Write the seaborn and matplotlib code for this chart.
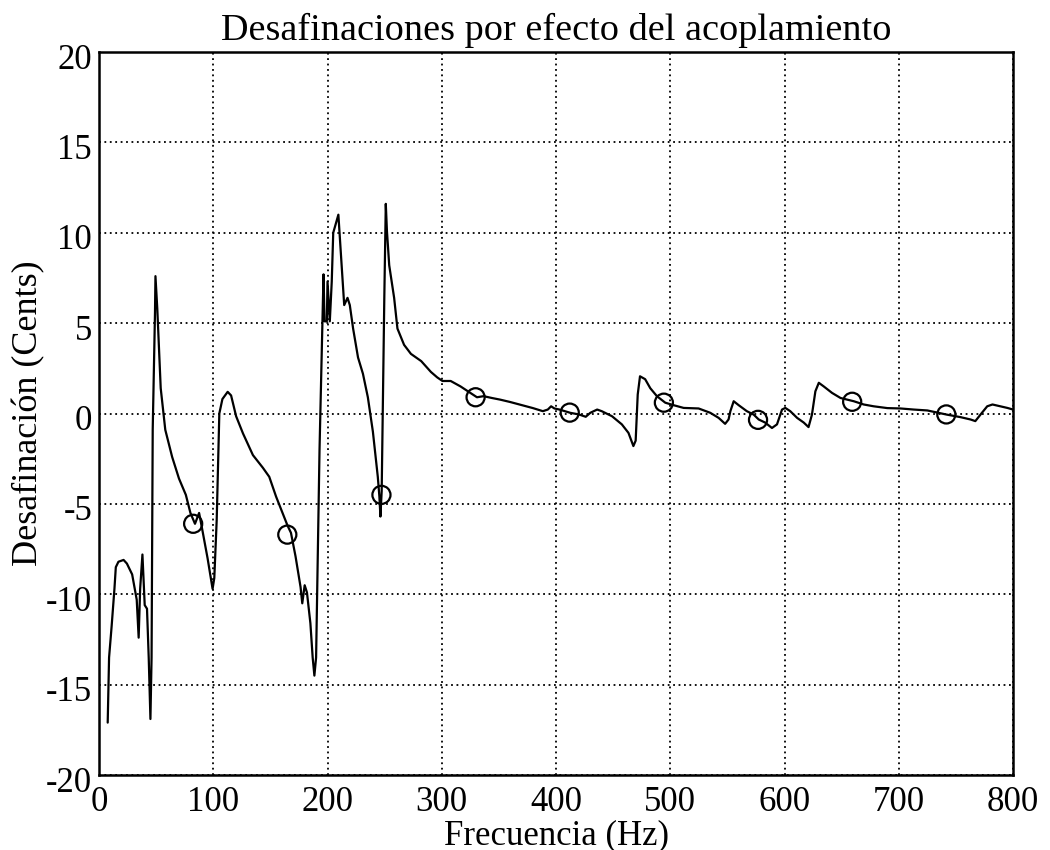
import matplotlib
matplotlib.use("Agg")
import matplotlib.pyplot as plt
import matplotlib.transforms as mtransforms
import seaborn as sns
import pandas as pd

freq = [7.6, 8.8, 11, 13.5, 14.7, 17, 21.5, 24.4, 29, 33, 34.7, 36, 38, 40, 42, 43.5, 45, 46, 47, 49, 49.4, 51, 54, 58,
        64, 70, 76, 80, 84, 87.6, 90.6, 95, 99.4, 100.9, 103, 105.3, 108, 112.6, 115.6, 120, 126, 134.7, 143.4, 149,
        155, 160.6, 165, 168, 172, 176.4, 177.9, 180, 182, 185, 187, 188.5, 190, 193, 196.5, 197.4, 199.4, 200, 202,
        203.7, 205, 209.5, 212.4, 214.6, 217.5, 219.5, 222.4, 226.7, 231, 235.3, 239.7, 242.5, 244, 245.4, 246.3,
        247.4, 249.7, 251, 252, 254, 258.3, 261.2, 267, 273, 282, 290.5, 296, 300.6, 307.8, 316.4, 330.8, 336.6,
        343.8, 351, 359.7, 368, 379.8, 388.5, 392.8, 395.7, 398.6, 403, 412.4, 420, 426, 430, 436, 440, 449, 457.6,
        463.4, 467.7, 469.7, 471.5, 473.5, 478, 482.5, 488.3, 495.6, 503, 511.7, 524.8, 535, 542.3, 548, 551, 552.6,
        555.5, 559.9, 567, 573, 577.4, 583, 589, 593.4, 597.8, 600.7, 605, 611, 616.8, 621, 624, 627, 630, 634.3,
        641.6, 649, 660.6, 669.3, 678, 690, 701.5, 713, 725, 742, 754, 762.8, 767, 771.5, 777.4, 782, 789, 795, 800]
cents = [-17.1, -13.5, -11.8, -9.7, -8.5, -8.2, -8.1, -8.3, -8.9, -10.3, -12.4, -9.7, -7.8, -10.6, -10.8, -13.5, -16.9,
         -13.5, -0.9, 5.6, 7.6, 5.8, 1.4, -0.9, -2.4, -3.6, -4.5, -5.5, -6.1, -5.5, -6.5, -8.0, -9.7, -9.1, -5.9, 0.0,
         0.8, 1.2, 1.0, -0.15, -1.1, -2.3, -3.0, -3.5, -4.6, -5.5, -6.2, -6.6, -7.9, -9.6, -10.5, -9.5, -9.9, -11.6,
         -13.5, -14.5, -13.5, -2.0, 7.7, 5.1, 5.1, 7.3, 5.1, 7.3, 10.0, 11.0, 8.2, 6.0, 6.4, 6.0, 4.7, 3.1, 2.2, 0.9,
         -1.0, -2.6, -3.5, -4.6, -5.7, -4.3, 6.4, 11.6, 10.1, 8.2, 6.4, 4.7, 3.8, 3.3, 2.9, 2.3, 2.0, 1.8, 1.8, 1.5,
         0.9, 0.96, 0.86, 0.77, 0.64, 0.5, 0.3, 0.13, 0.22, 0.4, 0.28, 0.22, 0.04, -0.05, -0.18, 0.04, 0.22, 0.13,
         -0.15, -0.6, -1.07, -1.8, -1.5, 1.05, 2.06, 1.9, 1.4, 0.96, 0.6, 0.46, 0.31, 0.28, 0.04, -0.24, -0.57, -0.33,
         0.13, 0.68, 0.46, 0.13, -0.06, -0.33, -0.5, -0.8, -0.6, 0.22, 0.31, 0.13, -0.24, -0.5, -0.75, -0.06, 1.23,
         1.7, 1.5, 1.14, 0.86, 0.68, 0.5, 0.4, 0.3, 0.28, 0.22, 0.17, -0.06, -0.2, -0.33, -0.42, -0.06, 0.4, 0.5, 0.4,
         0.31, 0.22]

harm_freq = [82.4, 164.8, 247.2, 329.6, 412.0, 494.4, 576.8, 659.2, 741.6]
harm_cents = [-6.1, -6.7, -4.5, 0.9, 0.05, 0.6, -0.35, 0.65, -0.05]

x_ticks = [0, 100, 200, 300, 400, 500, 600, 700, 800]
y_ticks = [-20, -15, -10, -5, 0, 5, 10, 15, 20]

title = "Desafinaciones por efecto del acoplamiento"
xlabel = "Frecuencia (Hz)"
ylabel = "Desafinación (Cents)"

sns.set_style("white")
plt.rcParams['font.family'] = ['Liberation Serif', 'DejaVu Serif']
plt.rcParams['axes.unicode_minus'] = False
plt.rcParams['text.color'] = 'black'
plt.rcParams['axes.labelcolor'] = 'black'

curve = pd.DataFrame({"f": freq, "c": cents})
marks = pd.DataFrame({"f": harm_freq, "c": harm_cents})

fig = plt.figure(figsize=(10.5, 8.5), dpi=100)
ax = fig.add_axes([0.0943, 0.0882, 0.8705, 0.8506])

sns.lineplot(data=curve, x="f", y="c", sort=False, estimator=None, color="black", linewidth=1.6, ax=ax)
sns.scatterplot(data=marks, x="f", y="c", marker="o", s=170, facecolor="none", edgecolor="black",
                linewidth=1.6, ax=ax, zorder=5)

ax.set_xlim(0, 800)
ax.set_ylim(-20, 20)
ax.set_xticks(x_ticks)
ax.set_yticks(y_ticks)
ax.grid(True, color="black", linestyle=(0, (1, 2)), linewidth=1.3)
ax.set_axisbelow(True)
for s in ax.spines.values():
    s.set_color("black")
    s.set_linewidth(1.8)
ax.tick_params(direction="in", length=6, width=1.2, labelsize=25, colors="black")
ax.tick_params(axis="x", pad=8)
ax.tick_params(axis="y", pad=5)
shift = mtransforms.ScaledTranslation(0, -4 / 100, fig.dpi_scale_trans)
for lab in ax.get_yticklabels():
    lab.set_transform(lab.get_transform() + shift)
ax.set_title(title, fontsize=27.5, pad=9, color="black")
ax.set_xlabel(xlabel, fontsize=25, labelpad=0)
ax.set_ylabel(ylabel, fontsize=26, labelpad=0)

fig.savefig("out.png", dpi=100)
